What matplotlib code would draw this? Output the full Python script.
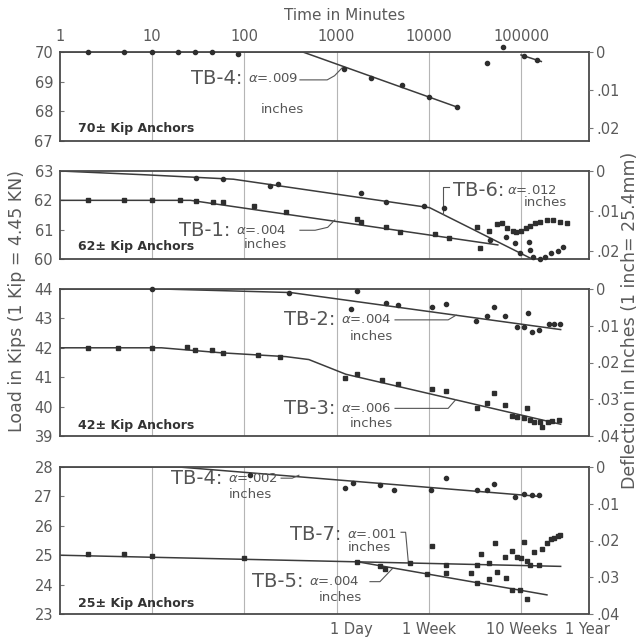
import numpy as np
import matplotlib.pyplot as plt
from matplotlib.ticker import NullLocator, FuncFormatter

plt.rcParams['font.family'] = ['DejaVu Sans']

# ---- data (time in minutes, load in kips) ----
# 70 kip anchor, TB-4
tb4a_t = [2, 5, 10, 19, 29, 44, 85, 1200, 2340, 5130, 10000, 20000, 42700, 63100, 107000, 148000]
tb4a_kip = [70, 70, 70, 70, 70, 70, 69.93, 69.42, 69.13, 68.89, 68.5, 68.16, 69.64, 70.17, 69.87, 69.73]
tb4a_fit_t = [1, 430, 20000]
tb4a_fit_kip = [70, 70, 68.15]
tb4a_fit2_t = [100000, 166000]
tb4a_fit2_kip = [69.9, 69.68]

# 62 kip anchors, TB-6 and TB-1
tb6_t = [30, 59, 190, 234, 1820, 3390, 8910, 14450, 45700, 69200, 85100, 123000,
         126000, 97700, 135000, 162000, 182000, 214000, 251000, 288000]
tb6_kip = [62.77, 62.73, 62.49, 62.57, 62.24, 61.95, 61.81, 61.73, 60.65, 60.74, 60.53, 60.59,
           60.31, 60.19, 60.06, 60.01, 60.06, 60.21, 60.28, 60.40]
tb6_fit_t = [1, 8.5, 76, 10200, 126000]
tb6_fit_kip = [63.0, 62.87, 62.72, 61.75, 60.03]

tb1_t = [2, 5, 10, 20, 30, 46, 59, 126, 282, 1660, 1860, 3390, 4900, 11750, 16600, 35500,
         33100, 44700, 55000, 61700, 70800, 81300, 89100, 100000, 112000, 126000, 141000,
         162000, 191000, 224000, 263000, 316000]
tb1_kip = [62, 62, 62, 62, 61.99, 61.95, 61.93, 61.81, 61.61, 61.35, 61.27, 61.10, 60.93, 60.85,
           60.71, 60.36, 61.10, 60.96, 61.18, 61.22, 61.05, 60.96, 60.92, 60.96, 61.05, 61.12,
           61.24, 61.27, 61.33, 61.33, 61.27, 61.22]
tb1_fit_t = [1, 26, 56000]
tb1_fit_kip = [62, 62, 60.48]

# 42 kip anchors, TB-2 and TB-3
tb2_t = [10, 302, 1660, 1445, 3390, 4680, 10700, 15500, 32400, 42700, 51300, 67600, 91200,
         107000, 120000, 132000, 155000, 200000, 229000, 263000]
tb2_kip = [44, 43.88, 43.92, 43.31, 43.51, 43.46, 43.40, 43.49, 42.92, 43.08, 43.40, 43.08, 42.72,
           42.70, 43.19, 42.55, 42.61, 42.80, 42.81, 42.81]
tb2_fit_t = [1, 12.6, 316, 269000]
tb2_fit_kip = [44, 44, 43.88, 42.62]

tb3_t = [2, 4.3, 10, 24, 29, 44, 59, 141, 245, 1230, 1660, 3090, 4680, 10960, 15500, 33100,
         42700, 51300, 67600, 79400, 91200, 107000, 117500, 126000, 138000, 162000, 170000,
         195000, 219000, 257000]
tb3_kip = [42, 42, 42, 42.03, 41.94, 41.94, 41.83, 41.74, 41.7, 40.96, 41.11, 40.90, 40.77, 40.59,
           40.54, 39.94, 40.11, 40.47, 40.05, 39.68, 39.66, 39.60, 39.94, 39.54, 39.49, 39.46,
           39.32, 39.46, 39.52, 39.54]
tb3_fit_t = [1, 12.6, 56, 282, 500, 1260, 269000]
tb3_fit_kip = [42, 42, 41.83, 41.7, 41.6, 41.1, 39.4]

# 25 kip anchors, TB-4, TB-7, TB-5
tb4b_t = [115, 1230, 1510, 2950, 4170, 10470, 15500, 33100, 42700, 51300, 87100, 107000, 132000, 155000]
tb4b_kip = [27.73, 27.27, 27.47, 27.39, 27.22, 27.22, 27.62, 27.22, 27.22, 27.42, 26.99, 27.08, 27.06, 27.06]
tb4b_fit_t = [1, 19.5, 158000]
tb4b_fit_kip = [28, 28, 27.0]

tb7_t = [2, 5, 10, 100, 1660, 6310, 10960, 15500, 33100, 37150, 44700, 52500, 67600, 79400,
         91200, 100000, 107000, 117500, 126000, 138000, 155000, 170000, 191000, 214000, 229000,
         251000, 263000]
tb7_kip = [25.05, 25.03, 24.97, 24.9, 24.78, 24.72, 25.3, 24.65, 24.65, 25.05, 24.75, 25.4, 24.95,
           25.15, 24.95, 24.9, 25.45, 24.8, 24.65, 25.1, 24.65, 25.2, 25.4, 25.55, 25.6, 25.65, 25.7]
tb7_fit_t = [1, 269000]
tb7_fit_kip = [25.0, 24.62]

tb5_t = [2950, 3310, 9550, 15500, 28800, 33100, 44700, 55000, 69200, 79400, 97700, 115000]
tb5_kip = [24.62, 24.52, 24.36, 24.38, 24.38, 24.06, 24.18, 24.44, 24.21, 23.82, 23.82, 23.50]
tb5_fit_t = [1660, 191000]
tb5_fit_kip = [24.78, 23.65]

top_ticks = [1, 10, 100, 1000, 10000, 100000]
bottom_ticks = [1440, 10080, 100800, 525600]
bottom_labels = ['1 Day', '1 Week', '10 Weeks', '1 Year']

TXT = '#5a5a5a'
INK = '#3c3c3c'

fig = plt.figure(figsize=(6.4, 6.39), dpi=100)


def make_panel(top, bottom, ylo, yhi, rmax, rticks, title):
    ax = fig.add_axes([60 / 640, 1 - bottom / 639, 529 / 640, (bottom - top) / 639])
    ax.set_xscale('log')
    ax.set_xlim(1, 5.46e5)
    ax.set_ylim(ylo, yhi)
    ax.xaxis.set_major_locator(NullLocator())
    ax.xaxis.set_minor_locator(NullLocator())
    for g in top_ticks[1:]:
        ax.axvline(g, color='#b5b5b5', lw=0.8, zorder=0)
    ax.set_yticks(range(ylo, yhi + 1))
    ax.tick_params(axis='y', direction='in', length=3, labelsize=10.5,
                   labelcolor=TXT, color='#777', pad=5)
    for s in ax.spines.values():
        s.set_color('#4a4a4a')
        s.set_linewidth(1.3)
    rax = ax.twinx()
    rax.set_ylim(rmax, 0)
    rax.set_yticks(rticks)
    rax.yaxis.set_major_formatter(FuncFormatter(lambda v, p: '0' if v == 0 else ('%.2f' % v)[1:]))
    rax.tick_params(axis='y', direction='out', length=3, labelsize=10.5,
                    labelcolor=TXT, color='#777', pad=2)
    for s in rax.spines.values():
        s.set_visible(False)
    ax.text(0.034, 0.07 if (bottom - top) > 100 else 0.14, title, transform=ax.transAxes,
            fontsize=9, fontweight='bold', color='#333', va='center')
    return ax


def series(ax, t, kip, marker):
    ax.plot(t, kip, marker, ms=3, color='#2e2e2e', ls='none', clip_on=False, zorder=3)


def fit(ax, t, kip):
    ax.plot(t, kip, '-', color=INK, lw=1.1, zorder=2)


def label(ax, name, alpha, xr, y, yin, xin, leader):
    ax.text(xr, y, name + ':', ha='right', va='center', fontsize=14, color='#555')
    ax.text(xr * 1.16, y, r'$\alpha$=' + alpha, ha='left', va='center', fontsize=9.5, color='#555')
    ax.text(xin, yin, 'inches', ha='center', va='center', fontsize=9.5, color='#555')
    lx, ly = zip(*leader)
    ax.plot(lx, ly, '-', color='#555', lw=0.8)


# panel 1
ax1 = make_panel(52, 141, 67, 70, 0.0234, [0, 0.01, 0.02], '70\u00b1 Kip Anchors')
fit(ax1, tb4a_fit_t, tb4a_fit_kip)
fit(ax1, tb4a_fit2_t, tb4a_fit2_kip)
series(ax1, tb4a_t, tb4a_kip, 'o')
label(ax1, 'TB-4', '.009', 94, 69.12, 68.05, 257,
      [(400, 69.06), (790, 69.06), (950, 69.2), (1150, 69.47)])
ax1.set_xticks(top_ticks)
ax1.set_xticklabels([str(v) for v in top_ticks])
ax1.xaxis.tick_top()
ax1.tick_params(axis='x', length=0, pad=6, labelsize=10.5, labelcolor=TXT)
fig.text(345 / 640, 1 - 15 / 639, 'Time in Minutes', ha='center', va='center',
         fontsize=11, color=TXT)

# panel 2
ax2 = make_panel(171, 259, 60, 63, 0.022, [0, 0.01, 0.02], '62\u00b1 Kip Anchors')
fit(ax2, tb6_fit_t, tb6_fit_kip)
fit(ax2, tb1_fit_t, tb1_fit_kip)
series(ax2, tb6_t, tb6_kip, 'o')
series(ax2, tb1_t, tb1_kip, 's')
label(ax2, 'TB-1', '.004', 70, 60.98, 60.5, 170,
      [(400, 60.98), (585, 60.98), (800, 61.08), (955, 61.33)])
ax2.plot([14100, 14100, 16600], [61.55, 62.45, 62.45], '-', color='#555', lw=0.8)
ax2.text(18200, 62.35, 'TB-6:', ha='left', va='center', fontsize=14, color='#555')
ax2.text(70800, 62.35, r'$\alpha$=.012', ha='left', va='center', fontsize=9.5, color='#555')
ax2.text(182000, 61.91, 'inches', ha='center', va='center', fontsize=9.5, color='#555')

# panel 3
ax3 = make_panel(289, 436, 39, 44, 0.04, [0, 0.01, 0.02, 0.03, 0.04], '42\u00b1 Kip Anchors')
fit(ax3, tb2_fit_t, tb2_fit_kip)
fit(ax3, tb3_fit_t, tb3_fit_kip)
series(ax3, tb2_t, tb2_kip, 'o')
series(ax3, tb3_t, tb3_kip, 's')
label(ax3, 'TB-2', '.004', 960, 42.95, 42.38, 2400,
      [(4300, 42.95), (16200, 42.95), (19800, 43.11)])
label(ax3, 'TB-3', '.006', 960, 39.94, 39.41, 2400,
      [(4300, 39.94), (16200, 39.94), (19500, 40.23)])

# panel 4
ax4 = make_panel(467, 614, 23, 28, 0.04, [0, 0.01, 0.02, 0.03, 0.04], '25\u00b1 Kip Anchors')
fit(ax4, tb4b_fit_t, tb4b_fit_kip)
fit(ax4, tb7_fit_t, tb7_fit_kip)
fit(ax4, tb5_fit_t, tb5_fit_kip)
series(ax4, tb4b_t, tb4b_kip, 'o')
series(ax4, tb7_t, tb7_kip, 's')
series(ax4, tb5_t, tb5_kip, 's')
label(ax4, 'TB-4', '.002', 57, 27.62, 27.06, 115,
      [(250, 27.62), (330, 27.62), (390, 27.72)])
label(ax4, 'TB-7', '.001', 1120, 25.7, 25.25, 2240,
      [(5000, 25.78), (5600, 25.78), (6000, 24.75)])
label(ax4, 'TB-5', '.004', 434, 24.1, 23.55, 1090,
      [(2300, 24.1), (2950, 24.1), (4070, 24.56)])
ax4.set_xticks(bottom_ticks)
ax4.set_xticklabels(bottom_labels)
ax4.tick_params(axis='x', length=0, pad=6, labelsize=10.5, labelcolor=TXT)

fig.text(17 / 640, 1 - 301 / 639, 'Load in Kips (1 Kip = 4.45 KN)', rotation=90,
         ha='center', va='center', fontsize=12.5, color=TXT)
fig.text(630 / 640, 1 - 320 / 639, 'Deflection in Inches (1 inch= 25.4mm)', rotation=90,
         ha='center', va='center', fontsize=12.5, color=TXT)

fig.savefig('out.png', dpi=100)
